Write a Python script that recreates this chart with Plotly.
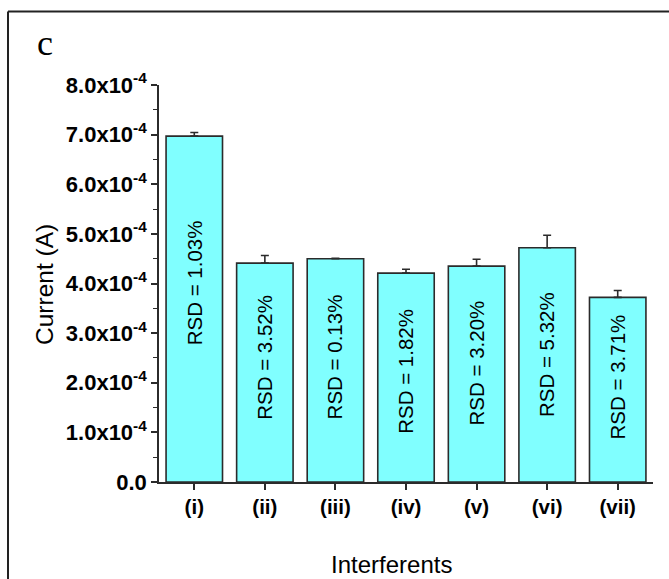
import plotly.graph_objects as go

# Interferent study: mean current response and relative standard deviation
categories = ["(i)", "(ii)", "(iii)", "(iv)", "(v)", "(vi)", "(vii)"]
mean_current = [6.97e-4, 4.41e-4, 4.50e-4, 4.21e-4, 4.35e-4, 4.72e-4, 3.72e-4]
rsd_percent = [1.03, 3.52, 0.13, 1.82, 3.20, 5.32, 3.71]

y_tick_vals = [0, 1e-4, 2e-4, 3e-4, 4e-4, 5e-4, 6e-4, 7e-4, 8e-4]
y_tick_text = ["0.0"] + [f"{v}.0x10<sup>-4</sup>" for v in range(1, 9)]

# standard deviation derived from the stated RSD
std_dev = [m * r / 100 for m, r in zip(mean_current, rsd_percent)]

# vertical centre of each rotated RSD label (A)
label_centre = [4.01e-4, 2.52e-4, 2.52e-4, 2.22e-4, 2.40e-4, 2.56e-4, 2.12e-4]

FONT = "Arial, Liberation Sans, sans-serif"
AXIS = "#2b2b2b"

W, H = 669, 579
ML, MR, MT, MB = 159, 16, 85, 97
pw, ph = W - ML - MR, H - MT - MB


def px(xp):
    """pixel x -> paper x"""
    return (xp - ML) / pw


def py(yp):
    """pixel y (from top) -> paper y"""
    return (H - MB - yp) / ph


fig = go.Figure()
fig.add_trace(go.Bar(
    x=list(range(len(categories))),
    y=mean_current,
    width=0.8,
    marker=dict(color="#80FFFF", line=dict(color="#2b2b2b", width=1.6)),
    error_y=dict(type="data", array=std_dev, arrayminus=[0] * len(std_dev),
                 symmetric=False, color="#2b2b2b", thickness=1.6, width=4),
    hoverinfo="skip",
))

for i, (r, yc) in enumerate(zip(rsd_percent, label_centre)):
    fig.add_annotation(
        x=i, y=yc, xref="x", yref="y",
        text=f"RSD = {r:.2f}%", showarrow=False, textangle=-90,
        font=dict(family=FONT, size=20.5, color="black"),
    )

fig.update_layout(
    width=W, height=H,
    margin=dict(l=ML, r=MR, t=MT, b=MB),
    paper_bgcolor="white", plot_bgcolor="white",
    showlegend=False,
    xaxis=dict(
        range=[-0.5, 6.5],
        tickmode="array", tickvals=list(range(len(categories))), ticktext=categories,
        ticks="outside", ticklen=6, tickwidth=1.5, tickcolor=AXIS,
        showline=True, linecolor=AXIS, linewidth=1.6, showgrid=False, zeroline=False,
        tickfont=dict(family=FONT, size=20.5, color="black", weight="bold"),
    ),
    yaxis=dict(
        range=[0, 8e-4],
        tickmode="array", tickvals=y_tick_vals, ticktext=y_tick_text,
        ticks="outside", ticklen=6, tickwidth=1.5, tickcolor=AXIS,
        minor=dict(dtick=0.5e-4, ticks="outside", ticklen=4, tickwidth=1.2, tickcolor=AXIS),
        showline=True, linecolor=AXIS, linewidth=1.6, showgrid=False, zeroline=False,
        tickfont=dict(family=FONT, size=22, color="black", weight="bold"),
    ),
)

# axis titles
fig.add_annotation(
    x=px(391), y=py(564), xref="paper", yref="paper",
    text="Interferents", showarrow=False, xanchor="center", yanchor="middle",
    font=dict(family=FONT, size=24, color="black"),
)
fig.add_annotation(
    x=px(44), y=py(285), xref="paper", yref="paper",
    text="Current (A)", showarrow=False, xanchor="center", yanchor="middle",
    textangle=-90,
    font=dict(family=FONT, size=24.5, color="black"),
)

# panel letter
fig.add_annotation(
    x=px(44.5), y=py(43), xref="paper", yref="paper",
    text="c", showarrow=False, xanchor="center", yanchor="middle",
    font=dict(family="Times New Roman, Liberation Serif, serif", size=36, color="black"),
)

# frame lines around the panel (top and left)
fig.add_shape(type="line", xref="paper", yref="paper",
              x0=px(8), x1=px(W), y0=py(11.5), y1=py(11.5),
              line=dict(color="#222222", width=2))
fig.add_shape(type="line", xref="paper", yref="paper",
              x0=px(8), x1=px(8), y0=py(11.5), y1=py(H),
              line=dict(color="#222222", width=2))

fig.write_html("out.html")
